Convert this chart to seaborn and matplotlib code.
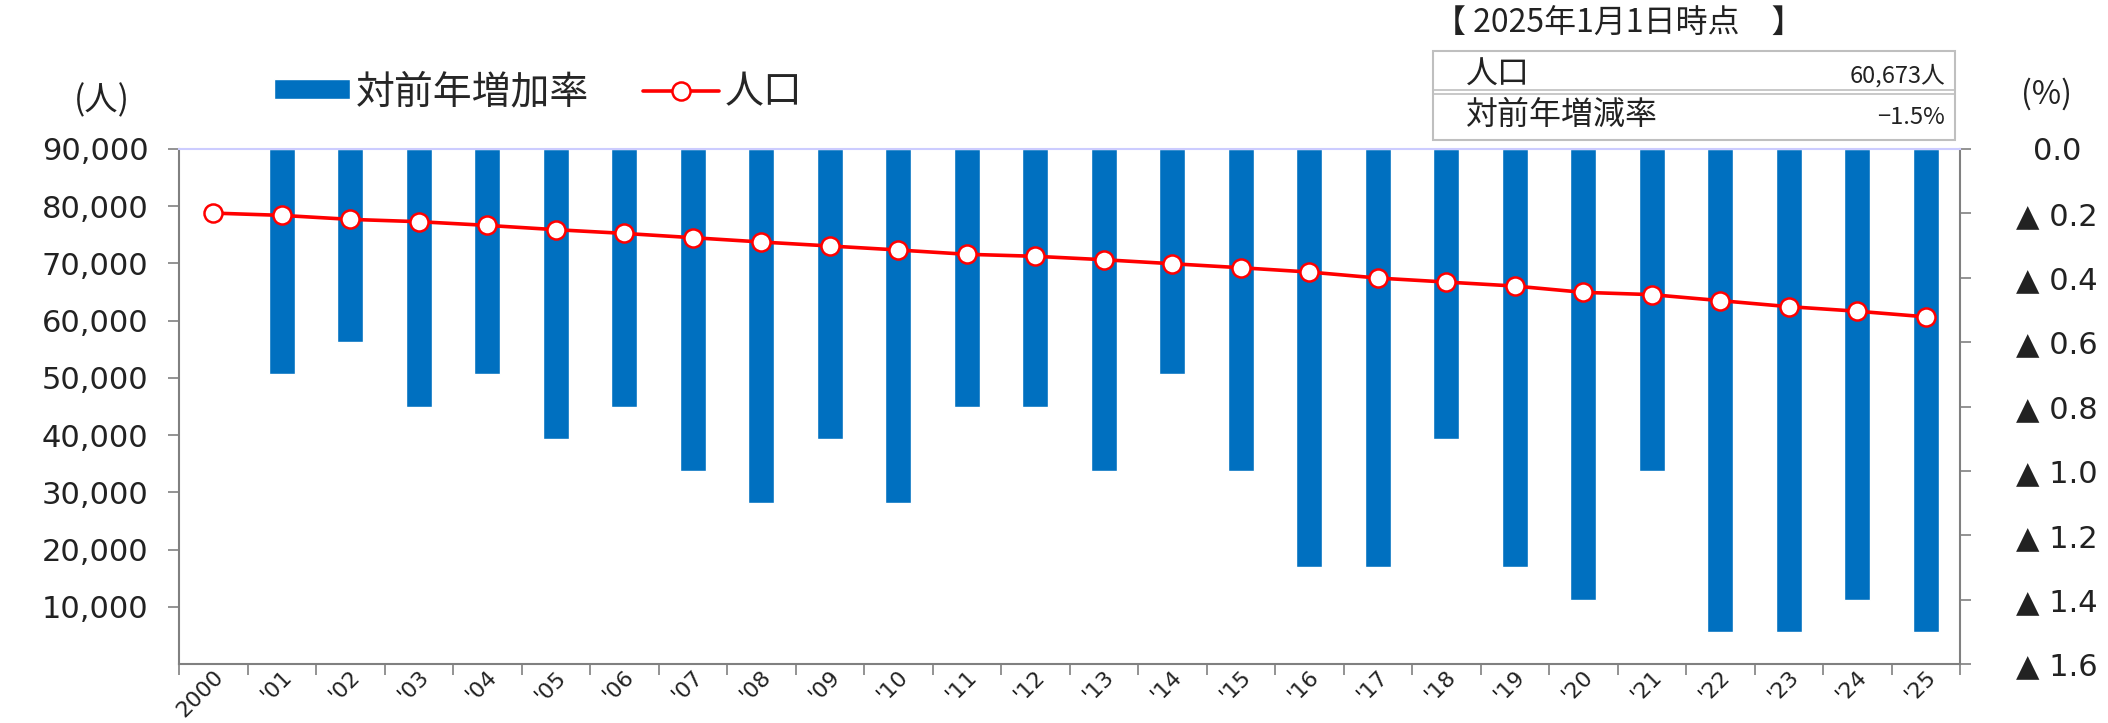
import numpy as np
import pandas as pd
import matplotlib
matplotlib.use("Agg")
import matplotlib.pyplot as plt
import seaborn as sns
from matplotlib.patches import Rectangle
from matplotlib.lines import Line2D

# Data
YEAR_LABELS = ["2000", "'01", "'02", "'03", "'04", "'05", "'06", "'07", "'08", "'09",
               "'10", "'11", "'12", "'13", "'14", "'15", "'16", "'17", "'18", "'19",
               "'20", "'21", "'22", "'23", "'24", "'25"]
POPULATION = [78800, 78400, 77700, 77300, 76650, 75900, 75250, 74500, 73750, 73050,
              72350, 71600, 71250, 70650, 69950, 69250, 68500, 67450, 66750, 66050,
              64950, 64550, 63500, 62450, 61650, 60673]
RATE_YEARS = YEAR_LABELS[1:]
RATE = [-0.7, -0.6, -0.8, -0.7, -0.9, -0.8, -1.0, -1.1, -0.9, -1.1,
        -0.8, -0.8, -1.0, -0.7, -1.0, -1.3, -1.3, -0.9, -1.3, -1.4,
        -1.0, -1.5, -1.5, -1.4, -1.5]
LEFT_TICKS = [10000, 20000, 30000, 40000, 50000, 60000, 70000, 80000, 90000]
RIGHT_TICKS = [0.0, -0.2, -0.4, -0.6, -0.8, -1.0, -1.2, -1.4, -1.6]

W, H = 2108, 723

sns.set_theme(style="white")
plt.rcParams["font.family"] = ["Noto Sans CJK JP", "DejaVu Sans"]

fig = plt.figure(figsize=(W / 100, H / 100), dpi=100)
ax = fig.add_axes([179 / W, 1 - 664 / H, (1960 - 179) / W, (664 - 149) / H])
ax2 = ax.twinx()

# Bars: year-on-year rate (right axis)
bar_df = pd.DataFrame({"year": RATE_YEARS, "rate": RATE})
sns.barplot(data=bar_df, x="year", y="rate", order=YEAR_LABELS, color="#0070C0",
            saturation=1, width=0.38, errorbar=None, ax=ax2, label="対前年増加率")

# Line: population (left axis)
line_df = pd.DataFrame({"pos": np.arange(len(YEAR_LABELS)), "pop": POPULATION})
sns.lineplot(data=line_df, x="pos", y="pop", ax=ax, color="#FF0000", linewidth=2.6,
             marker="o", markersize=13, markerfacecolor="white",
             markeredgecolor="#FF0000", markeredgewidth=1.8, label="人口")

ax.set_zorder(ax2.get_zorder() + 1)
ax.patch.set_visible(False)

# Axes limits and ticks
ax.set_xlim(-0.5, len(YEAR_LABELS) - 0.5)
ax.set_ylim(0, 90000)
ax2.set_ylim(-1.6, 0)

ax.set_xticks(np.arange(len(YEAR_LABELS)))
ax.set_xticklabels(YEAR_LABELS, rotation=45, ha="right", rotation_mode="anchor",
                   fontsize=16, family="DejaVu Sans", color="#222222")
ax.set_xticks(np.arange(-0.5, len(YEAR_LABELS), 1), minor=True)
ax.tick_params(axis="x", which="major", length=0, pad=2)
ax.tick_params(axis="x", which="minor", length=8, width=1.2, color="#808080",
               direction="out", bottom=True)

ax.set_yticks(LEFT_TICKS)
ax.set_yticklabels([f"{v:,}" for v in LEFT_TICKS], fontsize=22,
                   family="DejaVu Sans", color="#222222")
ax.tick_params(axis="y", length=8, width=1.2, color="#808080", direction="out",
               left=True, pad=14)

ax2.set_yticks(RIGHT_TICKS)
ax2.set_yticklabels(["0.0" if v == 0 else f"▲ {abs(v):.1f}" for v in RIGHT_TICKS],
                    fontsize=22, family="DejaVu Sans", color="#222222")
for lab in ax2.get_yticklabels():
    lab.set_horizontalalignment("center")
ax2.tick_params(axis="y", length=8, width=1.2, color="#808080", direction="out",
                right=True, pad=62)

for a in (ax, ax2):
    a.set_xlabel("")
    a.set_ylabel("")
    a.grid(False)
for s in ax2.spines.values():
    s.set_visible(False)
for side in ("left", "bottom", "right"):
    ax.spines[side].set_color("#808080")
    ax.spines[side].set_linewidth(1.5)
ax.spines["top"].set_color("#ccccff")
ax.spines["top"].set_linewidth(1.5)

# Legend
h1, l1 = ax2.get_legend_handles_labels()
h2, l2 = ax.get_legend_handles_labels()
for a in (ax, ax2):
    if a.get_legend() is not None:
        a.get_legend().remove()
fig.legend(h1 + h2, l1 + l2, loc="center left", bbox_to_anchor=(274 / W, 1 - 92 / H),
           ncol=2, frameon=False, fontsize=28, handlelength=1.95, handleheight=0.4,
           handletextpad=0.15, columnspacing=1.4, borderaxespad=0, borderpad=0)

# Axis unit labels
fig.text(102 / W, 1 - 101 / H, "(人)", ha="center", va="center", fontsize=24, color="#222222")
fig.text(2047 / W, 1 - 94 / H, "(%)", ha="center", va="center", fontsize=23, color="#222222")

# Info box
fig.text(1434 / W, 1 - 24 / H, "【 2025年1月1日時点　】", ha="left", va="center",
         fontsize=23, color="#222222")
fig.add_artist(Rectangle((1433 / W, 1 - 140 / H), (1955 - 1433) / W, (140 - 51) / H,
                         transform=fig.transFigure, fill=False, edgecolor="#bfbfbf", lw=1.5))
for yy in (90, 94):
    fig.add_artist(Line2D([1433 / W, 1955 / W], [1 - yy / H, 1 - yy / H],
                          transform=fig.transFigure, color="#bfbfbf", lw=1.2))
fig.text(1466 / W, 1 - 75 / H, "人口", ha="left", va="center", fontsize=23, color="#222222")
fig.text(1945 / W, 1 - 76 / H, f"{POPULATION[-1]:,}人", ha="right", va="center",
         fontsize=17, color="#222222")
fig.text(1466 / W, 1 - 115 / H, "対前年増減率", ha="left", va="center", fontsize=23,
         color="#222222")
fig.text(1945 / W, 1 - 117 / H, f"{RATE[-1]}%".replace("-", "−"), ha="right",
         va="center", fontsize=17, color="#222222")

fig.savefig("out.png", dpi=100)
